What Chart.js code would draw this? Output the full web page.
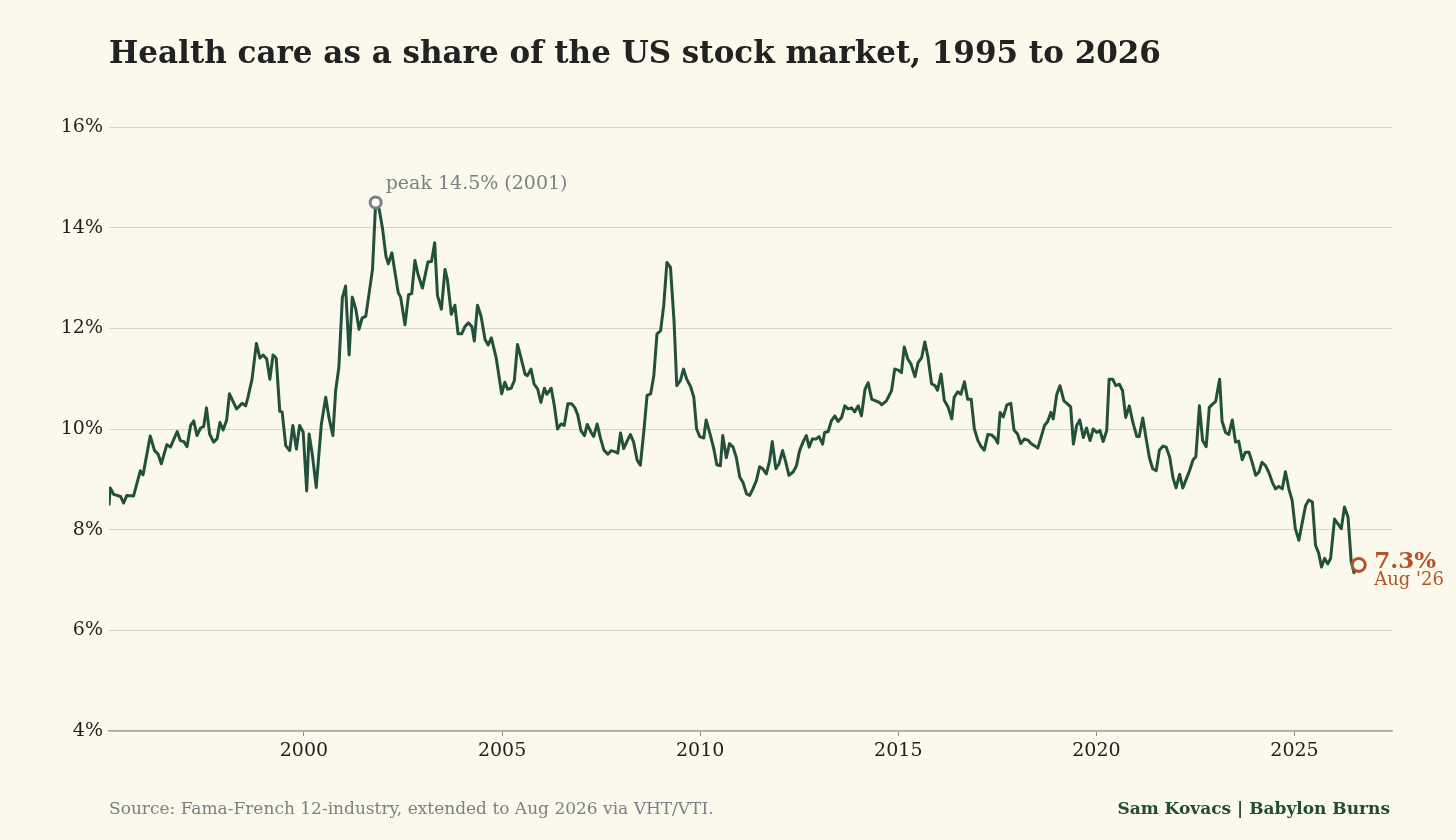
<!DOCTYPE html>
<html>
<head>
<meta charset="utf-8">
<script src="https://cdn.jsdelivr.net/npm/chart.js@4.4.1/dist/chart.umd.min.js"></script>
<style>
  html, body { margin: 0; padding: 0; background: #fbf8ec; }
  #wrap { position: relative; width: 1456px; height: 840px; }
  #chart { position: absolute; left: 0; top: 0; }
  .txt { position: absolute; font-family: "DejaVu Serif", serif; white-space: nowrap; }
  #title { left: 109px; top: 37px; font-size: 31px; line-height: 31px; font-weight: bold; color: #222; }
  #source { left: 109px; top: 800px; font-size: 17px; line-height: 17px; color: #7b8088; }
  #credit { right: 66px; top: 800px; font-size: 17px; line-height: 17px; font-weight: bold; color: #1f4d36; }
</style>
</head>
<body>
<div id="wrap">
  <canvas id="chart" width="1456" height="840"></canvas>
  <div class="txt" id="title">Health care as a share of the US stock market, 1995 to 2026</div>
  <div class="txt" id="source">Source: Fama-French 12-industry, extended to Aug 2026 via VHT/VTI.</div>
  <div class="txt" id="credit">Sam Kovacs | Babylon Burns</div>
</div>
<script>
// dates as decimal years, values as % of total market cap
const monthYears = [
  1995.08, 1995.11, 1995.20, 1995.37, 1995.45, 1995.53, 1995.70, 1995.87, 1995.94, 1996.12,
  1996.23, 1996.32, 1996.40, 1996.54, 1996.63, 1996.80, 1996.88, 1996.97, 1997.05, 1997.14,
  1997.22, 1997.30, 1997.39, 1997.47, 1997.54, 1997.62, 1997.72, 1997.81, 1997.88, 1997.96,
  1998.05, 1998.12, 1998.30, 1998.44, 1998.53, 1998.59, 1998.69, 1998.80, 1998.89, 1998.97,
  1999.06, 1999.14, 1999.22, 1999.30, 1999.39, 1999.45, 1999.54, 1999.64, 1999.72, 1999.81,
  1999.89, 1999.98, 2000.07, 2000.13, 2000.21, 2000.31, 2000.44, 2000.55, 2000.63, 2000.73,
  2000.80, 2000.88, 2000.97, 2001.05, 2001.14, 2001.22, 2001.31, 2001.39, 2001.47, 2001.56,
  2001.64, 2001.73, 2001.81, 2001.90, 2001.98, 2002.07, 2002.13, 2002.22, 2002.30, 2002.38,
  2002.44, 2002.55, 2002.64, 2002.72, 2002.80, 2002.88, 2002.99, 2003.13, 2003.22, 2003.30,
  2003.37, 2003.47, 2003.56, 2003.62, 2003.72, 2003.81, 2003.89, 2003.98, 2004.06, 2004.15,
  2004.24, 2004.30, 2004.38, 2004.47, 2004.57, 2004.65, 2004.73, 2004.85, 2004.99, 2005.07,
  2005.14, 2005.23, 2005.31, 2005.39, 2005.48, 2005.58, 2005.64, 2005.73, 2005.81, 2005.90,
  2005.98, 2006.07, 2006.13, 2006.24, 2006.32, 2006.40, 2006.49, 2006.57, 2006.66, 2006.76,
  2006.84, 2006.91, 2006.99, 2007.08, 2007.15, 2007.25, 2007.31, 2007.40, 2007.48, 2007.57,
  2007.67, 2007.75, 2007.84, 2007.92, 2007.99, 2008.07, 2008.16, 2008.24, 2008.32, 2008.41,
  2008.49, 2008.58, 2008.66, 2008.75, 2008.83, 2008.91, 2009.00, 2009.08, 2009.16, 2009.25,
  2009.34, 2009.41, 2009.50, 2009.58, 2009.66, 2009.76, 2009.84, 2009.91, 2009.99, 2010.09,
  2010.15, 2010.25, 2010.34, 2010.42, 2010.51, 2010.57, 2010.66, 2010.74, 2010.83, 2010.91,
  2011.00, 2011.08, 2011.17, 2011.25, 2011.33, 2011.42, 2011.50, 2011.58, 2011.67, 2011.75,
  2011.82, 2011.91, 2011.99, 2012.08, 2012.16, 2012.24, 2012.35, 2012.43, 2012.51, 2012.60,
  2012.68, 2012.75, 2012.83, 2012.92, 2013.00, 2013.09, 2013.14, 2013.23, 2013.31, 2013.40,
  2013.48, 2013.57, 2013.65, 2013.73, 2013.82, 2013.90, 2013.99, 2014.07, 2014.16, 2014.24,
  2014.33, 2014.43, 2014.52, 2014.58, 2014.70, 2014.83, 2014.91, 2015.00, 2015.08, 2015.15,
  2015.24, 2015.32, 2015.42, 2015.50, 2015.59, 2015.67, 2015.75, 2015.84, 2015.93, 2015.99,
  2016.08, 2016.16, 2016.26, 2016.35, 2016.41, 2016.50, 2016.58, 2016.67, 2016.75, 2016.84,
  2016.92, 2017.01, 2017.09, 2017.17, 2017.26, 2017.36, 2017.44, 2017.51, 2017.57, 2017.65,
  2017.74, 2017.84, 2017.92, 2018.01, 2018.09, 2018.18, 2018.27, 2018.35, 2018.43, 2018.52,
  2018.60, 2018.69, 2018.77, 2018.85, 2018.91, 2019.00, 2019.08, 2019.18, 2019.27, 2019.35,
  2019.42, 2019.50, 2019.58, 2019.67, 2019.75, 2019.84, 2019.92, 2020.01, 2020.09, 2020.17,
  2020.26, 2020.32, 2020.41, 2020.49, 2020.58, 2020.66, 2020.74, 2020.83, 2020.92, 2021.02,
  2021.08, 2021.17, 2021.25, 2021.34, 2021.42, 2021.51, 2021.59, 2021.68, 2021.76, 2021.85,
  2021.93, 2022.01, 2022.10, 2022.18, 2022.27, 2022.35, 2022.44, 2022.51, 2022.60, 2022.68,
  2022.77, 2022.85, 2022.94, 2023.01, 2023.11, 2023.17, 2023.26, 2023.34, 2023.43, 2023.51,
  2023.59, 2023.68, 2023.76, 2023.85, 2023.93, 2024.02, 2024.10, 2024.18, 2024.27, 2024.35,
  2024.44, 2024.52, 2024.60, 2024.69, 2024.77, 2024.86, 2024.94, 2025.02, 2025.11, 2025.19,
  2025.28, 2025.36, 2025.45, 2025.53, 2025.61, 2025.68, 2025.76, 2025.84, 2025.91, 2026.01,
  2026.09, 2026.18, 2026.26, 2026.35, 2026.43, 2026.51
];
const healthShare = [
  8.48, 8.83, 8.70, 8.66, 8.53, 8.68, 8.67, 9.17, 9.09, 9.86,
  9.57, 9.50, 9.31, 9.69, 9.64, 9.95, 9.77, 9.75, 9.65, 10.07,
  10.16, 9.87, 10.02, 10.05, 10.42, 9.90, 9.74, 9.81, 10.13, 9.98,
  10.18, 10.70, 10.40, 10.51, 10.46, 10.64, 10.99, 11.70, 11.41, 11.47,
  11.39, 10.99, 11.47, 11.41, 10.35, 10.34, 9.67, 9.57, 10.07, 9.60,
  10.07, 9.94, 8.77, 9.90, 9.50, 8.84, 10.10, 10.63, 10.23, 9.87,
  10.76, 11.22, 12.61, 12.84, 11.47, 12.62, 12.38, 11.98, 12.21, 12.24,
  12.67, 13.17, 14.50, 14.36, 14.00, 13.43, 13.28, 13.50, 13.10, 12.71,
  12.62, 12.07, 12.67, 12.69, 13.35, 13.07, 12.80, 13.32, 13.33, 13.70,
  12.65, 12.38, 13.17, 12.97, 12.28, 12.46, 11.89, 11.89, 12.03, 12.11,
  12.03, 11.75, 12.46, 12.24, 11.78, 11.67, 11.81, 11.42, 10.70, 10.93,
  10.79, 10.81, 10.96, 11.68, 11.41, 11.09, 11.06, 11.19, 10.89, 10.79,
  10.53, 10.81, 10.69, 10.81, 10.46, 10.00, 10.10, 10.07, 10.50, 10.50,
  10.42, 10.28, 9.97, 9.87, 10.09, 9.93, 9.85, 10.10, 9.83, 9.58,
  9.50, 9.57, 9.55, 9.52, 9.92, 9.61, 9.77, 9.89, 9.74, 9.38,
  9.28, 9.97, 10.67, 10.70, 11.06, 11.89, 11.95, 12.45, 13.31, 13.21,
  12.15, 10.86, 10.96, 11.19, 10.99, 10.84, 10.63, 10.00, 9.85, 9.82,
  10.18, 9.90, 9.62, 9.29, 9.27, 9.87, 9.43, 9.71, 9.64, 9.44,
  9.04, 8.94, 8.71, 8.68, 8.81, 8.98, 9.25, 9.21, 9.11, 9.36,
  9.75, 9.21, 9.31, 9.57, 9.34, 9.08, 9.15, 9.27, 9.57, 9.75,
  9.87, 9.64, 9.80, 9.80, 9.85, 9.70, 9.93, 9.95, 10.16, 10.26,
  10.15, 10.23, 10.46, 10.40, 10.42, 10.34, 10.46, 10.26, 10.79, 10.92,
  10.59, 10.56, 10.53, 10.48, 10.56, 10.76, 11.19, 11.17, 11.12, 11.63,
  11.39, 11.29, 11.04, 11.32, 11.42, 11.73, 11.42, 10.90, 10.86, 10.77,
  11.09, 10.57, 10.43, 10.20, 10.63, 10.74, 10.69, 10.94, 10.59, 10.59,
  10.00, 9.77, 9.65, 9.58, 9.89, 9.88, 9.82, 9.72, 10.33, 10.24,
  10.48, 10.51, 9.98, 9.90, 9.71, 9.80, 9.78, 9.71, 9.67, 9.62,
  9.83, 10.07, 10.15, 10.33, 10.20, 10.69, 10.86, 10.56, 10.50, 10.44,
  9.70, 10.07, 10.18, 9.83, 10.02, 9.77, 10.00, 9.93, 9.97, 9.75,
  9.97, 10.99, 10.99, 10.86, 10.89, 10.76, 10.23, 10.46, 10.13, 9.85,
  9.85, 10.22, 9.83, 9.42, 9.21, 9.17, 9.58, 9.66, 9.64, 9.44,
  9.04, 8.83, 9.10, 8.83, 9.01, 9.17, 9.39, 9.45, 10.46, 9.77,
  9.65, 10.43, 10.50, 10.55, 10.99, 10.16, 9.93, 9.89, 10.18, 9.74,
  9.76, 9.39, 9.54, 9.54, 9.34, 9.08, 9.14, 9.34, 9.27, 9.14,
  8.94, 8.81, 8.86, 8.81, 9.15, 8.80, 8.58, 8.02, 7.79, 8.12,
  8.48, 8.59, 8.55, 7.69, 7.53, 7.26, 7.43, 7.32, 7.43, 8.21,
  8.12, 8.02, 8.45, 8.25, 7.37, 7.12
];

const peakYear = 2001.81, peakShare = 14.5;
const lastYear = 2026.62, lastShare = 7.3;
const xTickYears = [2000, 2005, 2010, 2015, 2020, 2025];
const yTickValues = [4, 6, 8, 10, 12, 14, 16];

const cream = '#fbf8ec';
const green = '#22513a';
const rust = '#b4532a';
const slate = '#7b8088';

const seriesPoints = monthYears.map((yr, i) => ({ x: yr, y: healthShare[i] }));

// labels next to the peak and the latest value
const annotate = {
  id: 'annotate',
  afterDatasetsDraw(chart) {
    const { ctx, scales } = chart;
    const px = scales.x.getPixelForValue(peakYear);
    const py = scales.y.getPixelForValue(peakShare);
    const lx = scales.x.getPixelForValue(lastYear);
    const ly = scales.y.getPixelForValue(lastShare);
    ctx.save();
    ctx.textAlign = 'left';
    ctx.textBaseline = 'alphabetic';
    ctx.fillStyle = slate;
    ctx.font = '19px "DejaVu Serif"';
    ctx.fillText('peak ' + peakShare.toFixed(1) + '% (2001)', px + 10, py - 14);
    ctx.fillStyle = rust;
    ctx.font = 'bold 23px "DejaVu Serif"';
    ctx.fillText(lastShare.toFixed(1) + '%', lx + 15.5, ly + 3);
    ctx.font = '18px "DejaVu Serif"';
    ctx.fillText("Aug '26", lx + 15.5, ly + 20);
    ctx.restore();
  }
};

new Chart(document.getElementById('chart'), {
  type: 'scatter',
  data: {
    datasets: [
      {
        label: 'peak',
        data: [{ x: peakYear, y: peakShare }],
        pointRadius: 5.5,
        pointBorderWidth: 3,
        pointBorderColor: slate,
        pointBackgroundColor: cream,
        order: 1
      },
      {
        label: 'latest',
        data: [{ x: lastYear, y: lastShare }],
        pointRadius: 6.5,
        pointBorderWidth: 3,
        pointBorderColor: rust,
        pointBackgroundColor: cream,
        clip: false,
        order: 1
      },
      {
        label: 'Health care share',
        data: seriesPoints,
        showLine: true,
        borderColor: green,
        borderWidth: 3,
        borderJoinStyle: 'round',
        pointRadius: 0,
        tension: 0,
        order: 2
      }
    ]
  },
  options: {
    responsive: false,
    animation: false,
    devicePixelRatio: 1,
    layout: { padding: { left: 0, right: 64, top: 127, bottom: 69 } },
    plugins: {
      legend: { display: false },
      tooltip: { enabled: false }
    },
    scales: {
      x: {
        type: 'linear',
        min: 1995.08,
        max: 2027.46,
        afterBuildTicks: axis => { axis.ticks = xTickYears.map(v => ({ value: v })); },
        afterFit: axis => { axis.height = 40; },
        grid: { drawOnChartArea: false, drawTicks: true, tickLength: 5, color: '#8f8e84' },
        border: { display: true, color: '#a9a89b', width: 1.5 },
        ticks: {
          padding: 4,
          color: '#222',
          font: { family: 'DejaVu Serif', size: 19 },
          callback: v => String(v)
        }
      },
      y: {
        min: 4,
        max: 16,
        afterBuildTicks: axis => { axis.ticks = yTickValues.map(v => ({ value: v })); },
        afterFit: axis => { axis.width = 109; },
        grid: { color: '#d6d4c8', lineWidth: 1, drawTicks: false },
        border: { display: false },
        ticks: {
          padding: 6,
          color: '#222',
          font: { family: 'DejaVu Serif', size: 19 },
          callback: v => v + '%'
        }
      }
    }
  },
  plugins: [annotate]
});
</script>
</body>
</html>
